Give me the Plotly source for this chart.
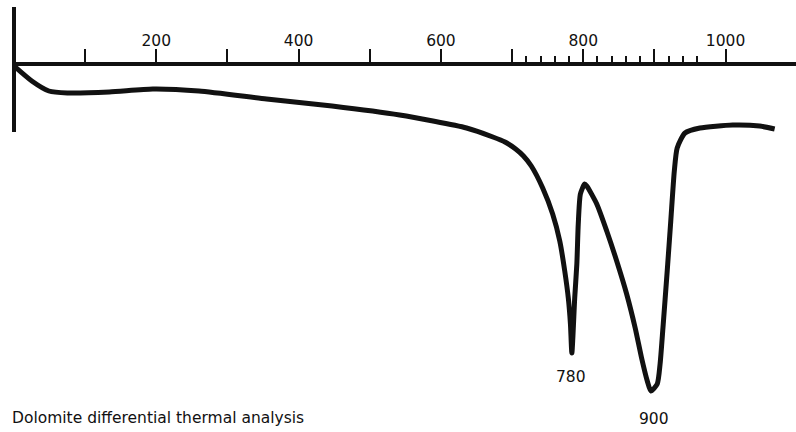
import plotly.graph_objects as go

# Temperature (deg C)
temperature = [0, 25, 49, 75, 134, 195, 260, 355, 447, 542, 636, 673, 690, 705, 716, 727, 743, 757,
               767, 774, 779, 782, 784, 788, 791, 793, 796, 802, 805, 819, 833, 847, 861, 873, 882,
               890, 895, 904, 908, 912, 918, 923, 928, 932, 943, 964, 1010, 1048, 1069]
# Differential deflection (arbitrary units, 0 = baseline axis, negative = endothermic)
deflection = [0, -15, -25, -27, -26, -23, -25, -33, -40, -49, -62, -71, -76, -83, -90, -100, -122, -148,
              -175, -205, -232, -258, -287, -232, -198, -158, -128, -118, -120, -138, -165, -195, -228, -262,
              -292, -315, -325, -318, -298, -262, -205, -155, -105, -82, -67, -62, -59, -60, -63]

major_ticks = [100, 200, 300, 400, 500, 600, 700, 800, 900, 1000]
major_labels = ["", "200", "", "400", "", "600", "", "800", "", "1000"]
minor_ticks = [720, 740, 760, 780, 820, 840, 860, 880, 920, 940, 960]

peak_temps = [783, 899]
peak_labels = ["780", "900"]
peak_label_y = [-311, -353]

caption = "Dolomite differential thermal analysis"
FONT = "DejaVu Sans"

fig = go.Figure()
fig.add_trace(go.Scatter(
    x=temperature, y=deflection, mode="lines",
    line=dict(color="#111111", width=5, shape="spline", smoothing=0.6),
    hoverinfo="skip", showlegend=False,
))

for t, lab, yy in zip(peak_temps, peak_labels, peak_label_y):
    fig.add_annotation(x=t, y=yy, text=lab, showarrow=False, xref="x", yref="y",
                       font=dict(family=FONT, size=15.5, color="#111111"))

fig.add_annotation(x=-4 / 782, y=(432 - 418) / 366, xref="paper", yref="paper",
                   text=caption, showarrow=False, xanchor="left", yanchor="middle",
                   font=dict(family=FONT, size=15.5, color="#111111"))

# vertical reference line at origin
fig.add_shape(type="line", xref="paper", yref="paper",
              x0=0, x1=0, y0=(432 - 132) / 366, y1=(432 - 7) / 366,
              line=dict(color="#111111", width=4))

fig.update_layout(
    width=796, height=432,
    margin=dict(l=14, r=0, t=66, b=0),
    paper_bgcolor="white", plot_bgcolor="white",
    xaxis=dict(
        side="top", range=[0, 1099], showgrid=False, zeroline=False,
        showline=True, linecolor="#111111", linewidth=4,
        tickmode="array", tickvals=major_ticks, ticktext=major_labels,
        ticks="outside", ticklen=13, tickwidth=2, tickcolor="#111111",
        tickfont=dict(family=FONT, size=15.5, color="#111111"),
        ticklabelstandoff=-3,
        minor=dict(tickmode="array", tickvals=minor_ticks, ticks="outside",
                   ticklen=6, tickwidth=2, tickcolor="#111111", showgrid=False),
    ),
    yaxis=dict(range=[-366, 0], visible=False, showgrid=False, zeroline=False),
)

fig.write_html("out.html", config={"displayModeBar": False},
               post_script="document.body.style.margin='0';document.body.style.padding='0';"
                           "document.body.style.overflow='hidden';")
